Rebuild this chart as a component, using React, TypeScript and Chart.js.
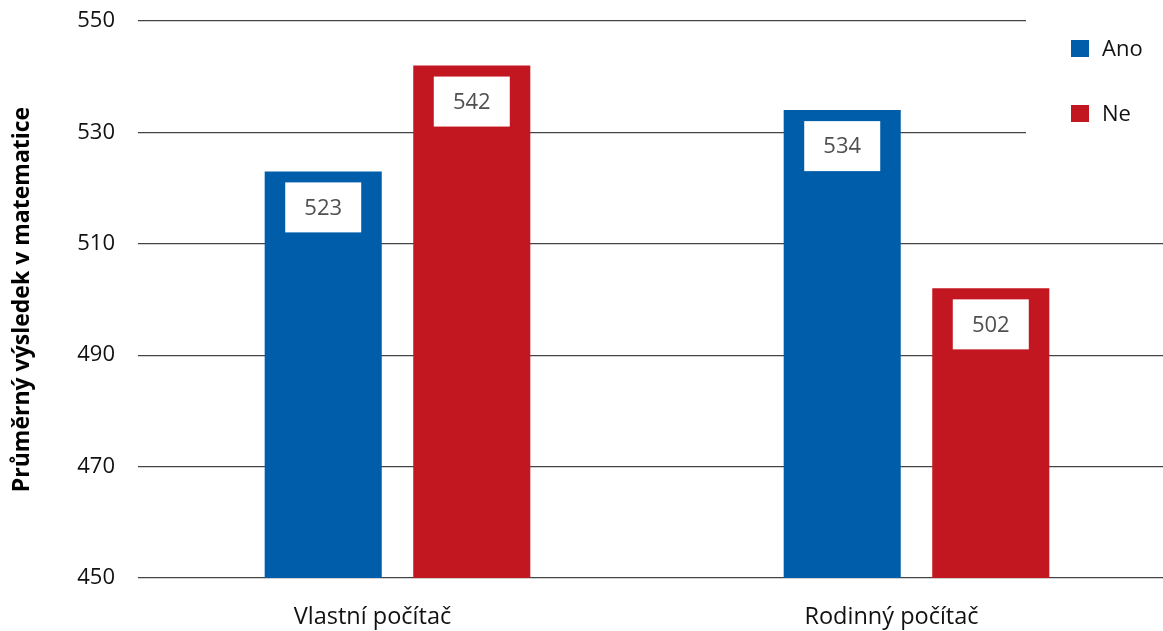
import React, { useEffect, useRef } from "react";
import { Chart, registerables } from "chart.js";

Chart.register(...registerables);

const categories = ["Vlastní počítač", "Rodinný počítač"];
const seriesNames = ["Ano", "Ne"];
const anoValues = [523, 534];
const neValues = [542, 502];
const yTicks = [450, 470, 490, 510, 530, 550];
const yTitle = "Průměrný výsledek v matematice";

const BLUE = "#005DAA";
const RED = "#C21620";
const FONT = "'Open Sans', sans-serif";

const valueBoxes = {
  id: "valueBoxes",
  afterDatasetsDraw(chart: any) {
    const ctx = chart.ctx;
    ctx.save();
    chart.data.datasets.forEach((ds: any, di: number) => {
      const meta = chart.getDatasetMeta(di);
      meta.data.forEach((bar: any, i: number) => {
        const w = 76;
        const h = 50;
        const x = bar.x - w / 2;
        const y = bar.y + 11;
        ctx.fillStyle = "#ffffff";
        ctx.fillRect(x, y, w, h);
        ctx.fillStyle = "#505050";
        ctx.font = `22px ${FONT}`;
        ctx.textAlign = "center";
        ctx.textBaseline = "middle";
        ctx.fillText(String(ds.data[i]), bar.x, y + h / 2 + 1);
      });
    });
    ctx.restore();
  },
};

const customLegend = {
  id: "customLegend",
  afterDraw(chart: any) {
    const ctx = chart.ctx;
    ctx.save();
    ctx.fillStyle = "#ffffff";
    ctx.fillRect(1026, 0, 200, 160);
    chart.data.datasets.forEach((ds: any, i: number) => {
      const cy = 49 + i * 65;
      ctx.fillStyle = ds.backgroundColor;
      ctx.fillRect(1071, cy - 9, 18, 17);
      ctx.fillStyle = "#111111";
      ctx.font = `22px ${FONT}`;
      ctx.textAlign = "left";
      ctx.textBaseline = "middle";
      ctx.fillText(ds.label, 1102, cy + 1);
    });
    ctx.restore();
  },
};

export default function App() {
  const ref = useRef<HTMLCanvasElement>(null);
  useEffect(() => {
    document.body.style.margin = "0";
    document.body.style.overflow = "hidden";
    const chart = new Chart(ref.current!, {
      type: "bar",
      data: {
        labels: categories,
        datasets: [
          { label: seriesNames[0], data: anoValues, backgroundColor: BLUE },
          { label: seriesNames[1], data: neValues, backgroundColor: RED },
        ],
      },
      options: {
        animation: false,
        responsive: false,
        maintainAspectRatio: false,
        layout: { padding: { top: 21, right: 0, left: 0, bottom: 0 } },
        datasets: {
          bar: { categoryPercentage: 0.5725, barPercentage: 0.788 },
        },
        plugins: {
          legend: { display: false },
          tooltip: { enabled: false },
        },
        scales: {
          x: {
            grid: { display: false },
            border: { display: false },
            ticks: {
              color: "#111111",
              font: { family: FONT, size: 23.5 },
              labelOffset: -25,
              padding: 17,
            },
            afterFit(scale: any) {
              scale.height = 53;
              scale.paddingLeft = 0;
              scale.paddingRight = 0;
            },
          },
          y: {
            min: 450,
            max: 550,
            afterBuildTicks(scale: any) {
              scale.ticks = yTicks.map((v) => ({ value: v }));
            },
            grid: { color: "#444444", lineWidth: 1.3, drawTicks: false },
            border: { display: false },
            ticks: {
              color: "#111111",
              font: { family: FONT, size: 22 },
              padding: 23,
            },
            title: {
              display: true,
              text: yTitle,
              color: "#000000",
              font: { family: FONT, size: 23, weight: "bold" },
              padding: { top: 9, bottom: 0 },
            },
            afterFit(scale: any) {
              scale.width = 138;
              scale.paddingTop = 0;
              scale.paddingBottom = 0;
            },
          },
        },
      },
      plugins: [valueBoxes, customLegend],
    });
    return () => chart.destroy();
  }, []);
  return (
    <div style={{ position: "fixed", left: 0, top: 0, width: 1176, height: 631 }}>
      <canvas ref={ref} width={1176} height={631} style={{ width: 1176, height: 631 }} />
    </div>
  );
}
